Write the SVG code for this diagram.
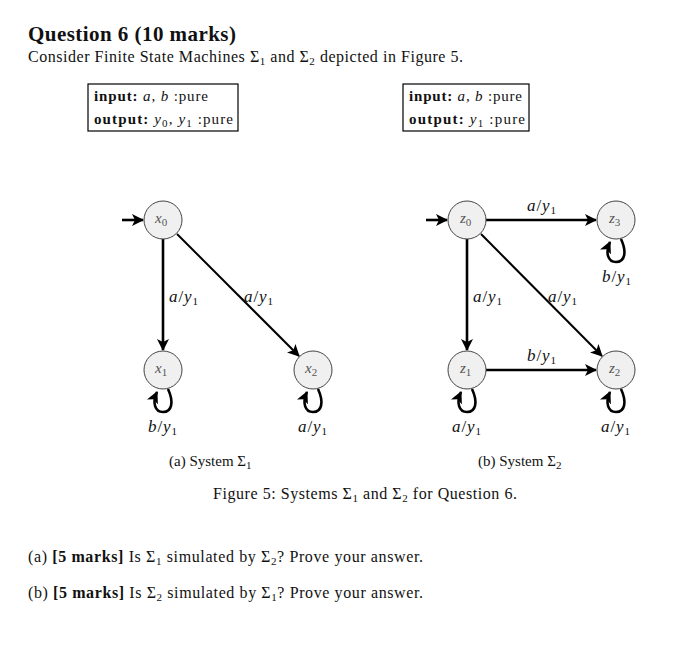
<svg xmlns="http://www.w3.org/2000/svg" width="699" height="650" viewBox="0 0 699 650">
<style>
text{font-family:"Liberation Serif","Times New Roman",serif;fill:#111;}
.t{font-size:16px;}
.bx{font-size:15px;}
.c{font-size:15px;}
.h{font-size:21px;font-weight:bold;}
.b{font-weight:bold;}
.i{font-style:italic;}
.lbl{font-size:17px;}
.nl{font-size:15px;fill:#555;}
.s{font-size:11px;}
.node{fill:#f0f0f0;stroke:#444;stroke-width:1;}
.e{fill:none;stroke:#000;stroke-width:2.6;}
.ed{fill:none;stroke:#000;stroke-width:2;}
.box{fill:#fff;stroke:#000;stroke-width:1.2;}
</style>
<defs>
<marker id="ah" markerUnits="userSpaceOnUse" markerWidth="14" markerHeight="12" refX="11" refY="6" orient="auto">
<path d="M0,0 L12,6 L0,12 L3,6 Z" fill="#000"/>
</marker>
</defs>
<rect width="699" height="650" fill="#fff"/>
<text class="h" x="28" y="41" textLength="208" lengthAdjust="spacing">Question 6 (10 marks)</text>
<text class="t" x="28" y="62" textLength="435" lengthAdjust="spacing">Consider Finite State Machines Σ<tspan class="s" dy="3">1</tspan><tspan dy="-3"> and Σ</tspan><tspan class="s" dy="3">2</tspan><tspan dy="-3"> depicted in Figure 5.</tspan></text>

<g id="box1">
<rect class="box" x="88" y="84" width="150" height="47"/>
<text class="bx" x="94" y="101" textLength="114" lengthAdjust="spacing"><tspan class="b">input:</tspan> <tspan class="i">a, b</tspan> :pure</text>
<text class="bx" x="94" y="124" textLength="139" lengthAdjust="spacing"><tspan class="b">output:</tspan> <tspan class="i">y</tspan><tspan class="s" dy="3">0</tspan><tspan class="i" dy="-3">, y</tspan><tspan class="s" dy="3">1</tspan><tspan dy="-3"> :pure</tspan></text>
</g>
<g id="box2">
<rect class="box" x="403" y="84" width="126" height="47"/>
<text class="bx" x="409" y="101" textLength="113" lengthAdjust="spacing"><tspan class="b">input:</tspan> <tspan class="i">a, b</tspan> :pure</text>
<text class="bx" x="409" y="124" textLength="116" lengthAdjust="spacing"><tspan class="b">output:</tspan> <tspan class="i">y</tspan><tspan class="s" dy="3">1</tspan><tspan dy="-3"> :pure</tspan></text>
</g>

<g id="connectors">
<line class="e" x1="122" y1="220" x2="143" y2="220" marker-end="url(#ah)"/>
<line class="e" x1="163" y1="239" x2="163" y2="350" marker-end="url(#ah)"/>
<line class="ed" x1="177" y1="234" x2="299" y2="356" marker-end="url(#ah)"/>
<path class="e" d="M168,389 C174,402 172,412 163,412 C155,412 152,403 157,392" marker-end="url(#ah)"/>
<path class="e" d="M318,389 C324,402 322,412 313,412 C305,412 302,403 307,392" marker-end="url(#ah)"/>

<line class="e" x1="426" y1="220" x2="447" y2="220" marker-end="url(#ah)"/>
<line class="e" x1="486" y1="220" x2="596" y2="220" marker-end="url(#ah)"/>
<line class="e" x1="467" y1="239" x2="467" y2="350" marker-end="url(#ah)"/>
<line class="ed" x1="481" y1="234" x2="602" y2="356" marker-end="url(#ah)"/>
<line class="e" x1="486" y1="370" x2="596" y2="370" marker-end="url(#ah)"/>
<path class="e" d="M621,239 C627,252 625,262 616,262 C608,262 605,253 610,242" marker-end="url(#ah)"/>
<path class="e" d="M472,389 C478,402 476,412 467,412 C459,412 456,403 461,392" marker-end="url(#ah)"/>
<path class="e" d="M621,389 C627,402 625,412 616,412 C608,412 605,403 610,392" marker-end="url(#ah)"/>

<text class="lbl" x="169" y="302" textLength="29" lengthAdjust="spacing"><tspan class="i">a</tspan>/<tspan class="i">y</tspan><tspan class="s" dy="3">1</tspan></text>
<text class="lbl" x="244" y="302" textLength="29" lengthAdjust="spacing"><tspan class="i">a</tspan>/<tspan class="i">y</tspan><tspan class="s" dy="3">1</tspan></text>
<text class="lbl" x="148" y="432" textLength="29" lengthAdjust="spacing"><tspan class="i">b</tspan>/<tspan class="i">y</tspan><tspan class="s" dy="3">1</tspan></text>
<text class="lbl" x="298" y="432" textLength="29" lengthAdjust="spacing"><tspan class="i">a</tspan>/<tspan class="i">y</tspan><tspan class="s" dy="3">1</tspan></text>
<text class="lbl" x="527" y="211" textLength="29" lengthAdjust="spacing"><tspan class="i">a</tspan>/<tspan class="i">y</tspan><tspan class="s" dy="3">1</tspan></text>
<text class="lbl" x="602" y="282" textLength="29" lengthAdjust="spacing"><tspan class="i">b</tspan>/<tspan class="i">y</tspan><tspan class="s" dy="3">1</tspan></text>
<text class="lbl" x="473" y="302" textLength="29" lengthAdjust="spacing"><tspan class="i">a</tspan>/<tspan class="i">y</tspan><tspan class="s" dy="3">1</tspan></text>
<text class="lbl" x="548" y="302" textLength="29" lengthAdjust="spacing"><tspan class="i">a</tspan>/<tspan class="i">y</tspan><tspan class="s" dy="3">1</tspan></text>
<text class="lbl" x="527" y="361" textLength="29" lengthAdjust="spacing"><tspan class="i">b</tspan>/<tspan class="i">y</tspan><tspan class="s" dy="3">1</tspan></text>
<text class="lbl" x="452" y="432" textLength="29" lengthAdjust="spacing"><tspan class="i">a</tspan>/<tspan class="i">y</tspan><tspan class="s" dy="3">1</tspan></text>
<text class="lbl" x="601" y="432" textLength="29" lengthAdjust="spacing"><tspan class="i">a</tspan>/<tspan class="i">y</tspan><tspan class="s" dy="3">1</tspan></text>
</g>

<g id="x0"><circle class="node" cx="163" cy="220" r="19"/><text class="nl" x="155" y="223"><tspan class="i">x</tspan><tspan class="s" dy="3">0</tspan></text></g>
<g id="x1"><circle class="node" cx="163" cy="370" r="19"/><text class="nl" x="155" y="373"><tspan class="i">x</tspan><tspan class="s" dy="3">1</tspan></text></g>
<g id="x2"><circle class="node" cx="313" cy="370" r="19"/><text class="nl" x="305" y="373"><tspan class="i">x</tspan><tspan class="s" dy="3">2</tspan></text></g>
<g id="z0"><circle class="node" cx="467" cy="220" r="19"/><text class="nl" x="460" y="223"><tspan class="i">z</tspan><tspan class="s" dy="3">0</tspan></text></g>
<g id="z3"><circle class="node" cx="616" cy="220" r="19"/><text class="nl" x="609" y="223"><tspan class="i">z</tspan><tspan class="s" dy="3">3</tspan></text></g>
<g id="z1"><circle class="node" cx="467" cy="370" r="19"/><text class="nl" x="460" y="373"><tspan class="i">z</tspan><tspan class="s" dy="3">1</tspan></text></g>
<g id="z2"><circle class="node" cx="616" cy="370" r="19"/><text class="nl" x="609" y="373"><tspan class="i">z</tspan><tspan class="s" dy="3">2</tspan></text></g>

<text class="c" x="169" y="466">(a) System Σ<tspan class="s" dy="3">1</tspan></text>
<text class="c" x="478" y="466">(b) System Σ<tspan class="s" dy="3">2</tspan></text>
<text class="t" x="213" y="499" textLength="304" lengthAdjust="spacing">Figure 5: Systems Σ<tspan class="s" dy="3">1</tspan><tspan dy="-3"> and Σ</tspan><tspan class="s" dy="3">2</tspan><tspan dy="-3"> for Question 6.</tspan></text>
<text class="t" x="28" y="562" textLength="395" lengthAdjust="spacing">(a)  <tspan class="b">[5 marks]</tspan> Is Σ<tspan class="s" dy="3">1</tspan><tspan dy="-3"> simulated by Σ</tspan><tspan class="s" dy="3">2</tspan><tspan dy="-3">? Prove your answer.</tspan></text>
<text class="t" x="28" y="598" textLength="395" lengthAdjust="spacing">(b)  <tspan class="b">[5 marks]</tspan> Is Σ<tspan class="s" dy="3">2</tspan><tspan dy="-3"> simulated by Σ</tspan><tspan class="s" dy="3">1</tspan><tspan dy="-3">? Prove your answer.</tspan></text>
</svg>
